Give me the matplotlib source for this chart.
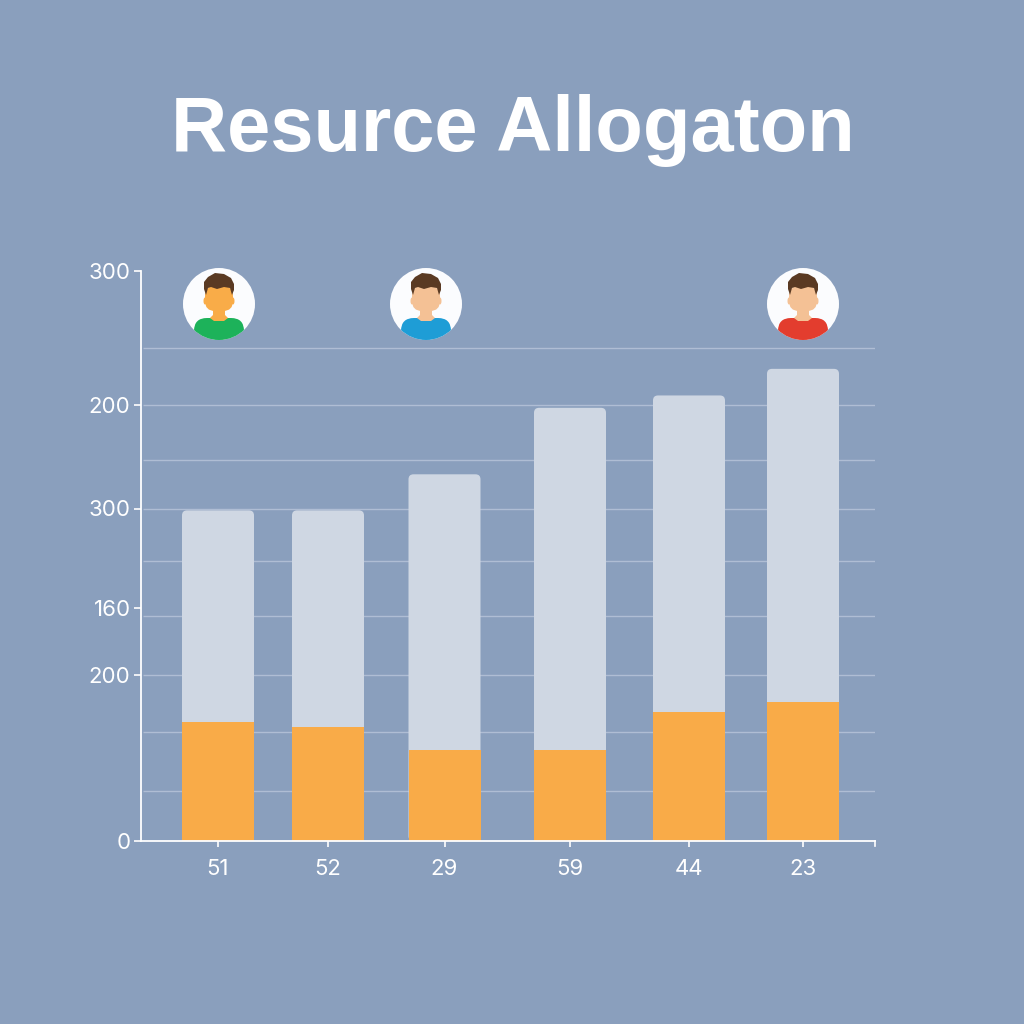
import matplotlib
matplotlib.use("Agg")
import matplotlib.pyplot as plt
from matplotlib.patches import Circle, Ellipse, FancyBboxPatch, Polygon

bg = "#8A9FBD"
title = "Resurce Allogaton"
categories = ["51", "52", "29", "59", "44", "23"]
bar_x = [218, 328, 444.5, 570, 689, 803]
totals = [174, 174, 193, 228, 234.5, 248.5]
orange = [62.5, 60, 48, 48, 68, 73]
ytick_pos = [300, 229.5, 175, 122.5, 87.5, 0]
ytick_labels = ["300", "200", "300", "160", "200", "0"]
grid_pos = [259.5, 229.5, 200.5, 174.5, 147.5, 118.5, 87.5, 57.5, 26.5]

avatar_x = [219, 426, 803]
avatar_skin = ["#F9AC48", "#F4C195", "#F4C195"]
avatar_shirt = ["#1DB25A", "#1E9DD6", "#E33D2E"]

fig = plt.figure(figsize=(10.24, 10.24), dpi=100, facecolor=bg)
ax = fig.add_axes([141/1024, 183/1024, 734/1024, 570/1024])
ax.set_facecolor("none")
ax.set_xlim(141, 875)
ax.set_ylim(0, 300)

ax.hlines(grid_pos, 143, 875, color="#AFBDD4", lw=1, zorder=1)

# rounded top on the light bars, orange sits on top of it
w = 72
for x, t in zip(bar_x, totals):
    ax.add_patch(FancyBboxPatch((x - w/2, 0), w, t, boxstyle="round,pad=0,rounding_size=5",
                                mutation_aspect=1/1.9, fc="#CFD7E3", ec="none", zorder=2))
ax.bar(bar_x, orange, width=w, color="#F9AB48", zorder=3)

for s in ["top", "right"]:
    ax.spines[s].set_visible(False)
for s in ["left", "bottom"]:
    ax.spines[s].set_color("white")
    ax.spines[s].set_linewidth(1.3)
    ax.spines[s].set_zorder(4)

ax.set_xticks(bar_x, categories, fontsize=16, color="white", family="Inter")
ax.set_yticks(ytick_pos, ytick_labels, fontsize=16, color="white", family="Inter")
ax.tick_params(axis="x", length=4, width=1.2, color="white", pad=9)
ax.tick_params(axis="y", length=5, width=1.2, color="white", pad=2.5)

fig.text(513/1024, 1 - 151/1024, title, ha="center", va="baseline", color="white",
         fontsize=56, fontweight="bold", family="Liberation Sans")

# overlay in pixel coordinates for the avatars
ov = fig.add_axes([0, 0, 1, 1])
ov.set_xlim(0, 1024)
ov.set_ylim(1024, 0)
ov.axis("off")
ov.patch.set_alpha(0)
ov.plot([875, 875], [841, 846], color="white", lw=1.2)

def avatar(cx, skin, shirt):
    cy = 304
    ov.add_patch(Circle((cx, cy), 36, fc="#FBFCFE", ec="none"))
    body = FancyBboxPatch((cx-25, cy+14), 50, 30, boxstyle="round,pad=0,rounding_size=13",
                          fc=shirt, ec="none", zorder=3)
    ov.add_patch(body)
    body.set_clip_path(Circle((cx, cy), 36, transform=ov.transData))
    ov.add_patch(Polygon([(cx-6, cy+4), (cx+6, cy+4), (cx+6, cy+11), (cx+9, cy+14),
                          (cx+5, cy+17), (cx-5, cy+17), (cx-9, cy+14), (cx-6, cy+11)],
                         fc=skin, ec="none", zorder=4))
    ov.add_patch(FancyBboxPatch((cx-14, cy-18), 28, 25, boxstyle="round,pad=0,rounding_size=10",
                                fc=skin, ec="none", zorder=5))
    ov.add_patch(Ellipse((cx-14, cy-3), 3, 7, fc=skin, ec="none", zorder=5))
    ov.add_patch(Ellipse((cx+14, cy-3), 3, 7, fc=skin, ec="none", zorder=5))
    ov.add_patch(Polygon([(cx-13, cy-9), (cx-15, cy-15), (cx-15, cy-22), (cx-11, cy-27), (cx-4, cy-31),
                          (cx+5, cy-30), (cx+12, cy-26), (cx+15, cy-20), (cx+15, cy-14), (cx+13, cy-9),
                          (cx+11, cy-16), (cx+5, cy-17), (cx-2, cy-15), (cx-8, cy-17), (cx-11, cy-16)],
                         fc="#5A3A23", ec="none", zorder=6))

for x, sk, sh in zip(avatar_x, avatar_skin, avatar_shirt):
    avatar(x, sk, sh)

fig.savefig("out.png", dpi=100, facecolor=bg)
